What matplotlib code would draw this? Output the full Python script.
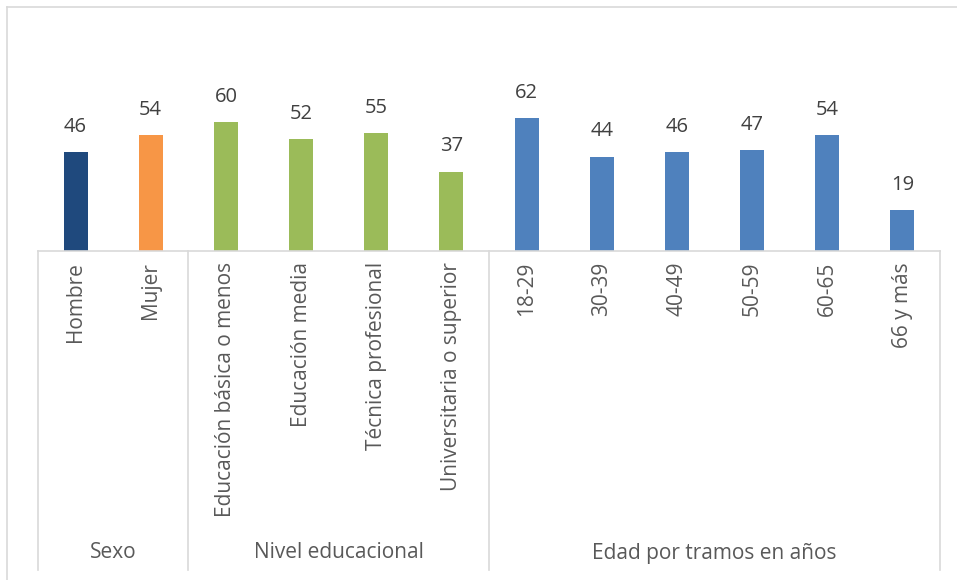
import matplotlib.pyplot as plt
from matplotlib.lines import Line2D

categories = ['Hombre', 'Mujer',
              'Educación básica o menos', 'Educación media', 'Técnica profesional', 'Universitaria o superior',
              '18-29', '30-39', '40-49', '50-59', '60-65', '66 y más']
values = [46, 54, 60, 52, 55, 37, 62, 44, 46, 47, 54, 19]
groups = ['Sexo', 'Nivel educacional', 'Edad por tramos en años']
group_sizes = [2, 4, 6]
colors = ['#1F497D', '#F79646'] + ['#9BBB59'] * 4 + ['#4F81BD'] * 6

plt.rcParams['font.family'] = ['Open Sans', 'DejaVu Sans']
W, H = 957, 580
fig = plt.figure(figsize=(W / 100, H / 100), dpi=100)

# plot area in pixels
left, right, base, top = 38, 940, 251, 36.5
ax = fig.add_axes([left / W, 1 - base / H, (right - left) / W, (base - top) / H])
ax.set_xlim(-0.5, len(categories) - 0.5)
ax.set_ylim(0, 100)

x = list(range(len(categories)))
bars = ax.bar(x, values, width=0.32, color=colors)
for xi, v in zip(x, values):
    ax.annotate(str(v), (xi, v), xytext=(0, 11), textcoords='offset points',
                ha='center', va='bottom', fontsize=14.5, color='#404040')

for s in ['top', 'right', 'left']:
    ax.spines[s].set_visible(False)
ax.spines['bottom'].set_color('#D9D9D9')
ax.spines['bottom'].set_linewidth(1.2)
ax.set_yticks([])
ax.set_xticks([])

# rotated category labels
axis_h = base - top
for xi, c in zip(x, categories):
    ax.text(xi, -11 / axis_h, c, rotation=90, ha='center', va='top',
            transform=ax.get_xaxis_transform(), fontsize=15, color='#595959')

# group separators and group labels
bottom_px = 570
y_sep = -(bottom_px - base) / axis_h
start = -0.5
ax.plot([start, start], [0, y_sep], color='#D9D9D9', lw=1.2,
        transform=ax.get_xaxis_transform(), clip_on=False)
for g, n in zip(groups, group_sizes):
    end = start + n
    ax.plot([end, end], [0, y_sep], color='#D9D9D9', lw=1.2,
            transform=ax.get_xaxis_transform(), clip_on=False)
    ax.text((start + end) / 2, -(553 - base) / axis_h, g, ha='center', va='center',
            transform=ax.get_xaxis_transform(), fontsize=15, color='#595959')
    start = end

# chart border
fig.add_artist(Line2D([7 / W, 7 / W], [0, 1 - 7 / H], color='#D9D9D9', lw=1.2))
fig.add_artist(Line2D([7 / W, 1], [1 - 7 / H, 1 - 7 / H], color='#D9D9D9', lw=1.2))

fig.savefig('out.png', dpi=100)
